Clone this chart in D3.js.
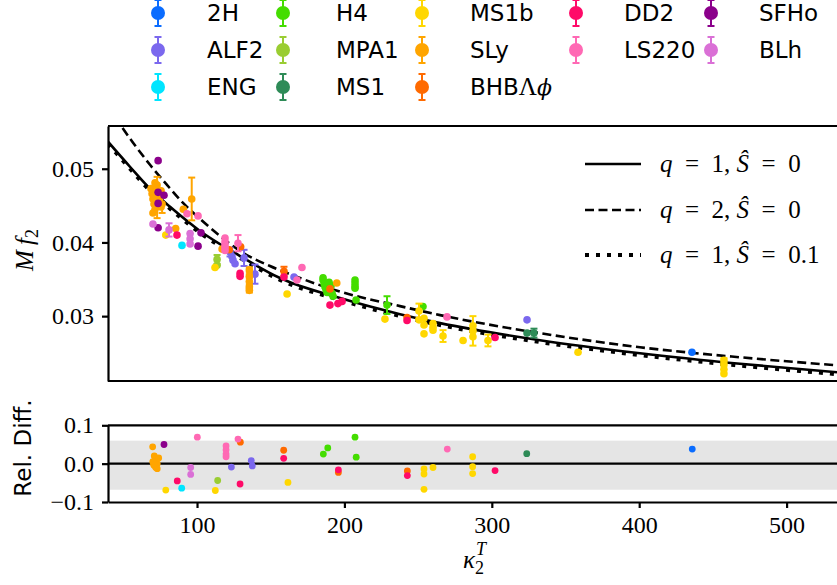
<!DOCTYPE html>
<html>
<head>
<meta charset="utf-8">
<script src="https://cdnjs.cloudflare.com/ajax/libs/d3/7.8.5/d3.min.js"></script>
<style>
  body { margin: 0; background: #fff; }
  svg text { fill: #000; }
  .axis text { font-family: "Liberation Serif", serif; font-size: 24px; }
  .axis path, .axis line { stroke: #000; stroke-width: 2.2; }
  .leg { font-family: "DejaVu Sans", sans-serif; font-size: 23px; }
  .math { font-family: "Liberation Serif", serif; font-size: 25px; }
</style>
</head>
<body>
<svg id="chart" width="837" height="585"></svg>
<script>
// legend order (column-wise, 3 rows)
var eosNames = ["2H", "ALF2", "ENG", "H4", "MPA1", "MS1", "MS1b", "SLy", "BHB", "DD2", "LS220", "SFHo", "BLh"];
var eosColors = ["#0a6cff", "#7b68ee", "#00e5ff", "#44dd00", "#9acd32", "#2e8b57", "#ffd700", "#ffa500", "#ff6a00", "#ff0a68", "#ff69b4", "#8b008b", "#da70d6"];
var legendCol = [0, 0, 0, 1, 1, 1, 2, 2, 2, 3, 3, 4, 4];
var legendRow = [0, 1, 2, 0, 1, 2, 0, 1, 2, 0, 1, 0, 1];

// main panel: [kappa, Mf2, error]
var pts2H = [[435.8, 0.0251, 0]];
var ptsALF2 = [[122.4, 0.0387, 0.0006], [123.7, 0.0381, 0], [124.4, 0.0376, 0], [125.8, 0.0371, 0], [131.9, 0.0379, 0.0011], [139.3, 0.0357, 0.0013], [165.8, 0.0353, 0], [323.9, 0.0295, 0]];
var ptsENG = [[89.8, 0.0396, 0]];
var ptsH4 = [[185.5, 0.0352, 0], [185.5, 0.0349, 0], [186.2, 0.0344, 0], [186.8, 0.0340, 0], [187.5, 0.0336, 0], [188.2, 0.0332, 0], [189.6, 0.0346, 0], [190.9, 0.0341, 0], [191.6, 0.0331, 0], [192.3, 0.0327, 0],
  [207.2, 0.0349, 0], [207.2, 0.0345, 0], [207.2, 0.0341, 0], [207.2, 0.0338, 0], [207.9, 0.0322, 0], [228.9, 0.0315, 0.0012], [253.3, 0.0313, 0]];
var ptsMPA1 = [[113.6, 0.0377, 0.0006], [113.6, 0.0369, 0]];
var ptsMS1 = [[323.9, 0.0277, 0], [328.6, 0.0277, 0.0006]];
var ptsMS1b = [[78.8, 0.0410, 0], [112.2, 0.0366, 0], [161.1, 0.0330, 0], [227.5, 0.0296, 0], [250.6, 0.0307, 0.0010], [250.6, 0.0295, 0],
  [254.0, 0.0297, 0], [254.0, 0.0288, 0], [254.0, 0.0276, 0], [260.1, 0.0290, 0], [260.1, 0.0285, 0], [260.1, 0.0281, 0],
  [266.9, 0.0273, 0.0008], [280.5, 0.0267, 0], [287.2, 0.0280, 0.0020], [287.2, 0.0287, 0], [287.2, 0.0272, 0], [297.4, 0.0267, 0.0008],
  [358.5, 0.0251, 0], [457.5, 0.0240, 0.0003], [457.5, 0.0234, 0], [457.5, 0.0228, 0], [457.5, 0.0222, 0]];
var ptsSLy = [[68.8, 0.0473, 0], [69.5, 0.0466, 0], [70.1, 0.0459, 0], [70.8, 0.0452, 0], [71.5, 0.0445, 0], [70.1, 0.0440, 0], [72.2, 0.0470, 0],
  [72.9, 0.0478, 0], [73.6, 0.0461, 0], [74.2, 0.0455, 0], [75.6, 0.0448, 0], [71.5, 0.0481, 0], [75.6, 0.0470, 0], [72.9, 0.0461, 0.0028], [76.3, 0.0452, 0.0012],
  [96.4, 0.0459, 0.0029], [90.7, 0.0445, 0], [85.5, 0.0419, 0], [117.0, 0.0391, 0],
  [135.5, 0.0363, 0.0003], [135.5, 0.0354, 0.0003], [135.5, 0.0347, 0], [135.5, 0.0340, 0.0003], [135.5, 0.0335, 0.0003], [194.8, 0.0345, 0]];
var ptsBHB = [[121.9, 0.0390, 0], [129.6, 0.0394, 0], [159.0, 0.0361, 0.0006], [190.2, 0.0337, 0], [242.5, 0.0298, 0]];
var ptsDD2 = [[86.4, 0.0410, 0], [129.2, 0.0358, 0], [129.2, 0.0354, 0], [159.0, 0.0353, 0], [190.2, 0.0315, 0], [195.6, 0.0317, 0], [198.4, 0.0320, 0], [242.5, 0.0294, 0], [302.2, 0.0271, 0]];
var ptsLS220 = [[93.2, 0.0439, 0], [100.7, 0.0436, 0], [119.0, 0.0406, 0], [119.0, 0.0401, 0], [119.0, 0.0397, 0], [119.0, 0.0393, 0], [119.0, 0.0389, 0],
  [127.8, 0.0399, 0.0011], [167.8, 0.0349, 0], [171.2, 0.0366, 0], [269.6, 0.0299, 0]];
var ptsSFHo = [[73.6, 0.0511, 0], [73.6, 0.0468, 0], [73.6, 0.0453, 0], [77.6, 0.0464, 0], [73.6, 0.0420, 0], [100.7, 0.0395, 0], [102.7, 0.0413, 0]];
var ptsBLh = [[70.1, 0.0425, 0], [81.0, 0.0417, 0.0009], [95.3, 0.0412, 0], [95.3, 0.0405, 0], [95.3, 0.0398, 0]];

// lower panel: [kappa, relative difference]
var rel2H = [[436.0, 0.038]];
var relALF2 = [[123.3, -0.009], [136.8, 0.008], [137.5, -0.006]];
var relENG = [[89.6, -0.064]];
var relH4 = [[185.7, 0.025], [188.7, 0.041], [207.2, 0.069], [208.0, 0.017]];
var relMPA1 = [[114.0, -0.044]];
var relMS1 = [[323.7, 0.026]];
var relMS1b = [[78.8, -0.069], [112.4, -0.070], [161.7, -0.049], [254.0, -0.014], [254.0, -0.027], [254.0, -0.067], [260.1, -0.010], [287.0, 0.018], [287.0, -0.008], [287.0, -0.026]];
var relSLy = [[69.9, 0.044], [71.0, 0.020], [72.0, 0.012], [70.0, 0.005], [73.0, 0.000], [71.0, -0.005], [72.0, -0.010], [74.0, 0.015], [73.0, -0.013], [70.5, -0.002]];
var relBHB = [[129.4, 0.056], [158.8, 0.035], [195.9, -0.023], [242.7, -0.019]];
var relDD2 = [[86.6, -0.045], [129.2, -0.053], [158.8, 0.014], [195.9, -0.016], [242.7, -0.031], [302.2, -0.018]];
var relLS220 = [[100.2, 0.069], [119.7, 0.046], [119.7, 0.036], [119.7, 0.025], [119.7, 0.018], [127.8, 0.064], [269.8, 0.038]];
var relSFHo = [[77.6, 0.050]];
var relBLh = [[95.7, -0.010], [95.7, -0.028]];

// fit curves
var curveKappa = [39.6, 54.5, 68.1, 81.7, 102.0, 129.2, 156.3, 197.0, 237.7, 264.9, 332.7, 400.5, 468.4, 534.2];
var fitQ1 = [0.05367, 0.05027, 0.04728, 0.04483, 0.04156, 0.03816, 0.03517, 0.03245, 0.03027, 0.02905, 0.02673, 0.02497, 0.02354, 0.02238];
var fitQ1Spin = [0.05342, 0.05002, 0.04703, 0.04458, 0.04131, 0.03791, 0.03492, 0.03220, 0.03002, 0.02880, 0.02648, 0.02472, 0.02329, 0.02213];
var dashKappa = [44.4, 48.4, 56.6, 68.1, 79.6, 90.5, 102.0, 115.6, 129.2, 149.5, 169.9, 197.0, 237.7, 264.9, 332.7, 400.5, 468.4, 534.2];
var fitQ2 = [0.05707, 0.05585, 0.05354, 0.05054, 0.04782, 0.04537, 0.04320, 0.04088, 0.03884, 0.03680, 0.03517, 0.03333, 0.03136, 0.03014, 0.02769, 0.02578, 0.02442, 0.02333];

var mainYTicks = [0.03, 0.04, 0.05];
var relYTicks = [-0.1, 0.0, 0.1];
var xTicks = [100, 200, 300, 400, 500];
var bandLow = -0.068, bandHigh = 0.06;

var mainPts = [pts2H, ptsALF2, ptsENG, ptsH4, ptsMPA1, ptsMS1, ptsMS1b, ptsSLy, ptsBHB, ptsDD2, ptsLS220, ptsSFHo, ptsBLh];
var relPts = [rel2H, relALF2, relENG, relH4, relMPA1, relMS1, relMS1b, relSLy, relBHB, relDD2, relLS220, relSFHo, relBLh];

var svg = d3.select("#chart");
var left = 108, right = 837;
var x = d3.scaleLinear().domain([39.6, 534.2]).range([left, right]);
var y = d3.scaleLinear().domain([0.0212, 0.0558]).range([381, 126]);
var yRel = d3.scaleLinear().domain([-0.1, 0.1]).range([502, 425.3]);

svg.append("clipPath").attr("id", "clipMain")
   .append("rect").attr("x", left).attr("y", y.range()[1]).attr("width", right - left).attr("height", y.range()[0] - y.range()[1]);
svg.append("clipPath").attr("id", "clipRel")
   .append("rect").attr("x", left).attr("y", yRel.range()[1]).attr("width", right - left).attr("height", yRel.range()[0] - yRel.range()[1]);

// ---------- main panel ----------
var main = svg.append("g").attr("clip-path", "url(#clipMain)");

var line = d3.line().x(d => x(d[0])).y(d => y(d[1])).curve(d3.curveMonotoneX);
var zip = (ks, vs) => ks.map((k, i) => [k, vs[i]]);

main.append("path").datum(zip(curveKappa, fitQ1))
   .attr("d", line).attr("fill", "none").attr("stroke", "#000").attr("stroke-width", 2.6);
main.append("path").datum(zip(dashKappa, fitQ2))
   .attr("d", line).attr("fill", "none").attr("stroke", "#000").attr("stroke-width", 2.6).attr("stroke-dasharray", "9,4.5");
main.append("path").datum(zip(curveKappa, fitQ1Spin))
   .attr("d", line).attr("fill", "none").attr("stroke", "#000").attr("stroke-width", 4).attr("stroke-dasharray", "4,7");

mainPts.forEach(function(pts, i) {
   var g = main.append("g").attr("stroke", eosColors[i]).attr("fill", eosColors[i]);
   var withErr = pts.filter(d => d[2] > 0);
   g.selectAll("line.bar").data(withErr).join("line").attr("class", "bar")
      .attr("x1", d => x(d[0])).attr("x2", d => x(d[0]))
      .attr("y1", d => y(d[1] - d[2])).attr("y2", d => y(d[1] + d[2]))
      .attr("stroke-width", 2);
   g.selectAll("line.capTop").data(withErr).join("line").attr("class", "capTop")
      .attr("x1", d => x(d[0]) - 3.5).attr("x2", d => x(d[0]) + 3.5)
      .attr("y1", d => y(d[1] + d[2])).attr("y2", d => y(d[1] + d[2]))
      .attr("stroke-width", 2);
   g.selectAll("line.capBot").data(withErr).join("line").attr("class", "capBot")
      .attr("x1", d => x(d[0]) - 3.5).attr("x2", d => x(d[0]) + 3.5)
      .attr("y1", d => y(d[1] - d[2])).attr("y2", d => y(d[1] - d[2]))
      .attr("stroke-width", 2);
   g.selectAll("circle").data(pts).join("circle")
      .attr("cx", d => x(d[0])).attr("cy", d => y(d[1])).attr("r", 3.8).attr("stroke", "none");
});

// spines + y axis
svg.append("line").attr("x1", left).attr("x2", right).attr("y1", y.range()[1]).attr("y2", y.range()[1]).attr("stroke", "#000").attr("stroke-width", 2.2);
svg.append("line").attr("x1", left).attr("x2", right).attr("y1", y.range()[0]).attr("y2", y.range()[0]).attr("stroke", "#000").attr("stroke-width", 2.2);
svg.append("g").attr("class", "axis").attr("transform", "translate(" + left + ",0)")
   .call(d3.axisLeft(y).tickValues(mainYTicks).tickSize(6).tickSizeOuter(0).tickPadding(8).tickFormat(d3.format(".2f")));

// fit legend
var fitLegend = [
   { dash: null, w: 2.6, s: "0", y: 164 },
   { dash: "9,4.5", w: 2.6, s: "0", y: 210 },
   { dash: "4,7", w: 4, s: "0.1", y: 255 }
];
var qVals = ["1", "2", "1"];
fitLegend.forEach(function(d, i) {
   svg.append("line").attr("x1", 585).attr("x2", 641).attr("y1", d.y).attr("y2", d.y)
      .attr("stroke", "#000").attr("stroke-width", d.w).attr("stroke-dasharray", d.dash);
   var t = svg.append("text").attr("class", "math").attr("x", 660).attr("y", d.y + 8);
   t.append("tspan").attr("font-style", "italic").text("q");
   t.append("tspan").text("\u2002=\u2002" + qVals[i] + ", ");
   t.append("tspan").attr("font-style", "italic").text("Ŝ");
   t.append("tspan").text("\u2002=\u2002" + d.s);
});

// y label
var yl = svg.append("text").attr("class", "math").attr("font-size", "27px")
   .attr("transform", "translate(33,250) rotate(-90)").attr("text-anchor", "middle");
yl.append("tspan").attr("font-style", "italic").text("M\u2009f");
yl.append("tspan").attr("font-size", "18px").attr("dy", 5).text("2");

// ---------- lower panel ----------
svg.append("rect").attr("x", left).attr("width", right - left)
   .attr("y", yRel(bandHigh)).attr("height", yRel(bandLow) - yRel(bandHigh)).attr("fill", "#e5e5e5");
svg.append("line").attr("x1", left).attr("x2", right).attr("y1", yRel(0)).attr("y2", yRel(0)).attr("stroke", "#000").attr("stroke-width", 2.4);

var rel = svg.append("g").attr("clip-path", "url(#clipRel)");
relPts.forEach(function(pts, i) {
   rel.append("g").selectAll("circle").data(pts).join("circle")
      .attr("cx", d => x(d[0])).attr("cy", d => yRel(d[1])).attr("r", 3.4).attr("fill", eosColors[i]);
});

svg.append("line").attr("x1", left).attr("x2", right).attr("y1", yRel.range()[1]).attr("y2", yRel.range()[1]).attr("stroke", "#000").attr("stroke-width", 2.2);
svg.append("g").attr("class", "axis").attr("transform", "translate(" + left + ",0)")
   .call(d3.axisLeft(yRel).tickValues(relYTicks).tickSize(6).tickSizeOuter(0).tickPadding(8).tickFormat(d3.format(".1f")));
svg.append("g").attr("class", "axis").attr("transform", "translate(0," + yRel.range()[0] + ")")
   .call(d3.axisBottom(x).tickValues(xTicks).tickSize(6).tickSizeOuter(0).tickPadding(8).tickFormat(d3.format("d")));

svg.append("text").attr("class", "leg").attr("font-size", "24px").attr("transform", "translate(31,448) rotate(-90)")
   .attr("text-anchor", "middle").text("Rel. Diff.");

var xl = svg.append("text").attr("class", "math").attr("font-size", "28px").attr("x", 463).attr("y", 568);
xl.append("tspan").attr("font-style", "italic").text("κ");
xl.append("tspan").attr("font-size", "18px").attr("dy", 6).text("2");
xl.append("tspan").attr("font-size", "18px").attr("font-style", "italic").attr("dx", -8).attr("dy", -19).text("T");

// ---------- EOS legend ----------
var colX = [158, 283, 422, 576, 711];
var textX = [207, 336, 470, 624, 759];
var rowY = [13, 50, 87];
eosNames.forEach(function(name, i) {
   var c = legendCol[i], r = legendRow[i];
   var cx = colX[c], cy = rowY[r];
   var g = svg.append("g").attr("stroke", eosColors[i]).attr("stroke-width", 2);
   g.append("line").attr("x1", cx).attr("x2", cx).attr("y1", cy - 13).attr("y2", cy + 13);
   g.append("line").attr("x1", cx - 3.5).attr("x2", cx + 3.5).attr("y1", cy - 13).attr("y2", cy - 13);
   g.append("line").attr("x1", cx - 3.5).attr("x2", cx + 3.5).attr("y1", cy + 13).attr("y2", cy + 13);
   g.append("circle").attr("cx", cx).attr("cy", cy).attr("r", 7).attr("fill", eosColors[i]).attr("stroke", "none");
   var t = svg.append("text").attr("class", "leg").attr("x", textX[c]).attr("y", cy + 8);
   if (name === "BHB") {
      t.append("tspan").text("BHB");
      t.append("tspan").attr("font-family", "Liberation Serif, serif").attr("font-size", "25px").text("Λ");
      t.append("tspan").attr("font-family", "DejaVu Serif, serif").attr("font-style", "italic").attr("font-size", "22px").text("ϕ");
   } else {
      t.text(name);
   }
});
</script>
</body>
</html>
